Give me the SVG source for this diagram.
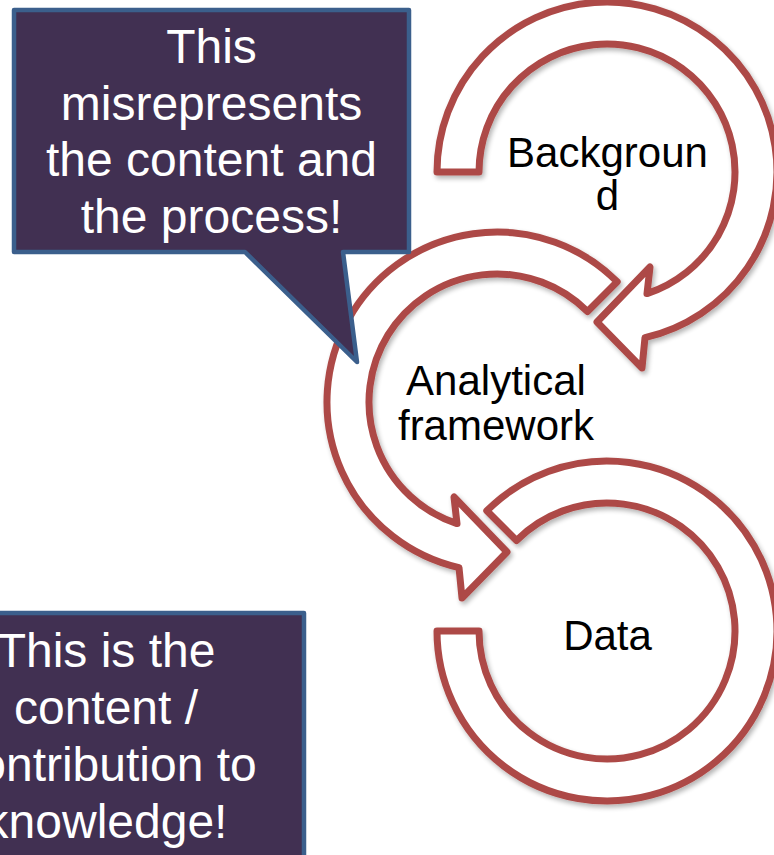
<svg xmlns="http://www.w3.org/2000/svg" width="774" height="855" viewBox="0 0 774 855">
  <style>
    .band { fill: #FFFFFF; stroke: #AD4A47; stroke-width: 7; stroke-linejoin: round; filter: url(#shadow); }
    .lbl { font-family: "Liberation Sans", Arial, sans-serif; font-size: 42px; fill: #000000; text-anchor: middle; }
    .call { fill: #413052; stroke: #3B5F8C; stroke-width: 4.5; stroke-linejoin: round; }
    .ctext { font-family: "Liberation Sans", Arial, sans-serif; font-size: 48px; fill: #FFFFFF; text-anchor: middle; }
  </style>
  <defs>
    <filter id="shadow" x="-10%" y="-10%" width="120%" height="120%">
      <feGaussianBlur in="SourceAlpha" stdDeviation="2.5"/>
      <feOffset dx="1.5" dy="3" result="b"/>
      <feComponentTransfer><feFuncA type="linear" slope="0.3"/></feComponentTransfer>
      <feMerge><feMergeNode/><feMergeNode in="SourceGraphic"/></feMerge>
    </filter>
  </defs>
  <rect width="774" height="855" fill="#FFFFFF"/>

  <g id="connectors"></g>

  <g id="node-background">
    <path class="band" d="M437,172 A170,170 0 1 1 645,337.7 L642,368 L597,322 L650,267 L647,293.6 A128,128 0 1 0 479,172 Z"/>
    <text class="lbl" x="607.5" y="166.5">Backgroun</text>
    <text class="lbl" x="607.5" y="210">d</text>
  </g>

  <g id="node-analytical">
    <path class="band" d="M617.2,281.8 A170,170 0 1 0 459,567.7 L462,598 L507,552 L454,497 L457,523.6 A128,128 0 1 1 587.5,311.5 Z"/>
    <text class="lbl" x="496" y="395">Analytical</text>
    <text class="lbl" x="496" y="440">framework</text>
  </g>

  <g id="node-data">
    <path class="band" d="M437,631 A170,170 0 1 0 486.8,510.8 L516.5,540.5 A128,128 0 1 1 479,631 Z"/>
    <text class="lbl" x="607.5" y="650">Data</text>
  </g>

  <g id="callout-misrepresents">
    <path class="call" d="M14,10 H409 V252 H343 L357,362 L245,252 H14 Z"/>
    <text class="ctext" x="211.5" y="62.7">This</text>
    <text class="ctext" x="211.5" y="119.5">misrepresents</text>
    <text class="ctext" x="211.5" y="176.3">the content and</text>
    <text class="ctext" x="211.5" y="233">the process!</text>
  </g>

  <g id="callout-content">
    <rect class="call" x="-92" y="613" width="396" height="260"/>
    <text class="ctext" x="106" y="667">This is the</text>
    <text class="ctext" x="106" y="724">content /</text>
    <text class="ctext" x="106" y="781">contribution to</text>
    <text class="ctext" x="106" y="838">knowledge!</text>
  </g>
</svg>
